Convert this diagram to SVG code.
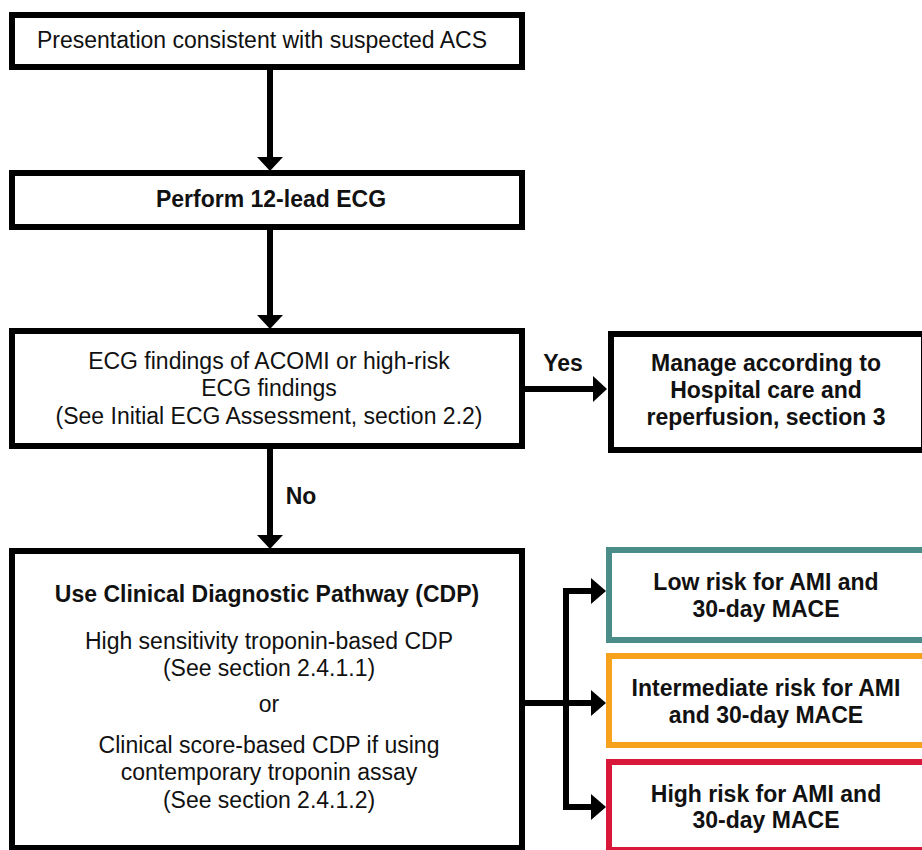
<svg xmlns="http://www.w3.org/2000/svg" width="922" height="850" viewBox="0 0 922 850">
  <style>
    .box { fill: #ffffff; stroke: #000000; stroke-width: 6; }
    .low { fill: #ffffff; stroke: #4a8c88; stroke-width: 6; }
    .mid { fill: #ffffff; stroke: #f7a11c; stroke-width: 6; }
    .high { fill: #ffffff; stroke: #d8173a; stroke-width: 6; }
    text { font-family: "Liberation Sans", Arial, sans-serif; font-size: 23px; fill: #111111; text-anchor: middle; }
    .b { font-weight: bold; }
    .wire { fill: none; stroke: #000000; stroke-width: 6; }
    .head { fill: #000000; }
  </style>
  <rect width="922" height="850" fill="#ffffff"/>

  <g id="connectors">
    <!-- presentation to ECG -->
    <line class="wire" x1="270" y1="70" x2="270" y2="158"/>
    <polygon class="head" points="257,157 283,157 270,171"/>
    <!-- ECG to findings -->
    <line class="wire" x1="270" y1="230" x2="270" y2="316"/>
    <polygon class="head" points="257,315 283,315 270,329"/>
    <!-- Yes branch -->
    <line class="wire" x1="525" y1="389" x2="594" y2="389"/>
    <polygon class="head" points="593,376 593,402 607,389"/>
    <text class="b" x="563" y="371">Yes</text>
    <!-- No branch -->
    <line class="wire" x1="270" y1="449" x2="270" y2="536"/>
    <polygon class="head" points="257,535 283,535 270,549"/>
    <text class="b" x="301" y="504">No</text>
    <!-- CDP to risk categories -->
    <polyline class="wire" points="525,703 592,703"/>
    <line class="wire" x1="566" y1="588" x2="566" y2="810"/>
    <line class="wire" x1="563" y1="591" x2="592" y2="591"/>
    <line class="wire" x1="563" y1="807" x2="592" y2="807"/>
    <polygon class="head" points="591,578 591,604 606,591"/>
    <polygon class="head" points="591,690 591,716 606,703"/>
    <polygon class="head" points="591,794 591,820 606,807"/>
  </g>

  <g id="presentation">
    <rect class="box" x="12" y="15" width="510" height="52"/>
    <text x="262" y="48">Presentation consistent with suspected ACS</text>
  </g>

  <g id="ecg">
    <rect class="box" x="12" y="173" width="510" height="54"/>
    <text class="b" x="271" y="207">Perform 12-lead ECG</text>
  </g>

  <g id="findings">
    <rect class="box" x="12" y="331" width="510" height="115"/>
    <text x="269" y="369">ECG findings of ACOMI or high-risk</text>
    <text x="269" y="396">ECG findings</text>
    <text x="269" y="424">(See Initial ECG Assessment, section 2.2)</text>
  </g>

  <g id="manage">
    <rect class="box" x="611" y="334" width="313" height="116"/>
    <text class="b" x="766" y="371">Manage according to</text>
    <text class="b" x="766" y="398">Hospital care and</text>
    <text class="b" x="766" y="425">reperfusion, section 3</text>
  </g>

  <g id="cdp">
    <rect class="box" x="12" y="551" width="510" height="297"/>
    <text class="b" x="267" y="602">Use Clinical Diagnostic Pathway (CDP)</text>
    <text x="269" y="649">High sensitivity troponin-based CDP</text>
    <text x="269" y="676">(See section 2.4.1.1)</text>
    <text x="269" y="712">or</text>
    <text x="269" y="753">Clinical score-based CDP if using</text>
    <text x="269" y="780">contemporary troponin assay</text>
    <text x="269" y="808">(See section 2.4.1.2)</text>
  </g>

  <g id="low-risk">
    <rect class="low" x="609" y="550" width="316" height="90"/>
    <text class="b" x="766" y="590">Low risk for AMI and</text>
    <text class="b" x="766" y="617">30-day MACE</text>
  </g>

  <g id="intermediate-risk">
    <rect class="mid" x="609" y="656" width="316" height="89"/>
    <text class="b" x="766" y="696">Intermediate risk for AMI</text>
    <text class="b" x="766" y="723">and 30-day MACE</text>
  </g>

  <g id="high-risk">
    <rect class="high" x="609" y="762" width="316" height="88"/>
    <text class="b" x="766" y="802">High risk for AMI and</text>
    <text class="b" x="766" y="828">30-day MACE</text>
  </g>
</svg>
